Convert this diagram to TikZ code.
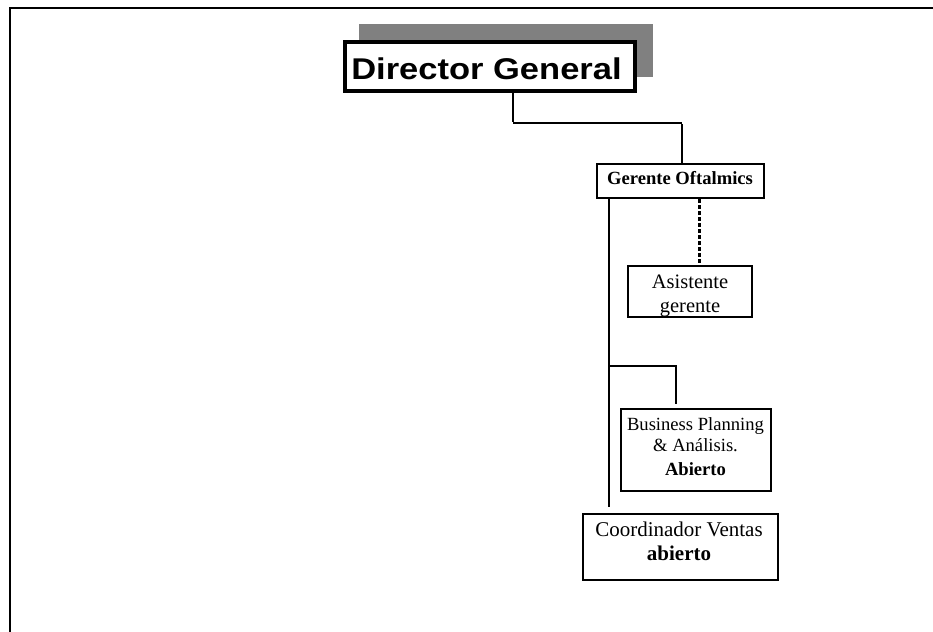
\documentclass[tikz,border=0pt]{standalone}
\usepackage{fontspec}
\setmainfont{Liberation Serif}
\newfontfamily\dgfont[FakeStretch=1.15]{Liberation Sans}
\definecolor{shadowgray}{HTML}{808080}
\begin{document}
\begin{tikzpicture}[x=1pt,y=-1pt,
  box/.style={draw, line width=2pt, fill=white, inner sep=0pt, rectangle},
  txt/.style={inner sep=0pt, anchor=base},
  conn/.style={line width=2pt},
  sz/.style={font=\fontsize{#1}{#1}\selectfont}]
\useasboundingbox (0,0) rectangle (933,631);
% frame
\draw[line width=2pt] (10,645) -- (10,8) -- (945,8);
% shadow and boxes
\node[fill=shadowgray, inner sep=0pt, minimum width=294pt, minimum height=53.5pt] (shadow) at (506,50.75) {};
\node[box, line width=4pt, minimum width=290pt, minimum height=49pt] (dg) at (490,66.5) {};
\node[box, minimum width=167pt, minimum height=34pt] (go) at (680.5,181) {};
\node[box, minimum width=124pt, minimum height=51pt] (as) at (690,291.5) {};
\node[box, minimum width=150pt, minimum height=82pt] (bp) at (696,450) {};
\node[box, minimum width=195pt, minimum height=66pt] (co) at (680.5,547) {};
% connectors
\coordinate (j1) at (513,123);
\coordinate (j2) at (682,123);
\draw[line width=2.7pt] (dg.south -| j1) -- ([yshift=1pt]j1);
\draw[conn] (j1) -- (j2);
\draw[line width=1.6pt] ([yshift=-1pt]j2) -- (j2 |- go.north);
\coordinate (v1) at (609,507);
\draw[conn] (go.south -| v1) -- (v1);
\coordinate (b1) at (609,366);
\coordinate (b2) at (676,404);
\draw[conn] (b1) -| (b2);
\coordinate (d1) at (699,0);
\draw[line width=3pt, dash pattern=on 3.5pt off 2.5pt] (go.south -| d1) -- (as.north -| d1);
% texts
\node[txt, font=\dgfont\bfseries\fontsize{30}{36}\selectfont] (dgt) at (486.5,79.7) {Director General};
\node[txt, sz=18.6] (got) at (680,184.3) {\textbf{Gerente Oftalmics}};
\node[txt, sz=20.5] (ast1) at (690,288.3) {Asistente};
\node[txt, sz=20.5] (ast2) at (690,312.7) {gerente};
\node[txt, sz=18.6] (bpt1) at (695.5,430) {Business Planning};
\node[txt, sz=18.6] (bpt2) at (695.5,451) {\& Análisis.};
\node[txt, sz=18.6] (bpt3) at (695.5,475) {\textbf{Abierto}};
\node[txt, sz=21] (cot1) at (679,536.5) {Coordinador Ventas};
\node[txt, sz=21] (cot2) at (679,560) {\textbf{abierto}};
\end{tikzpicture}
\end{document}
